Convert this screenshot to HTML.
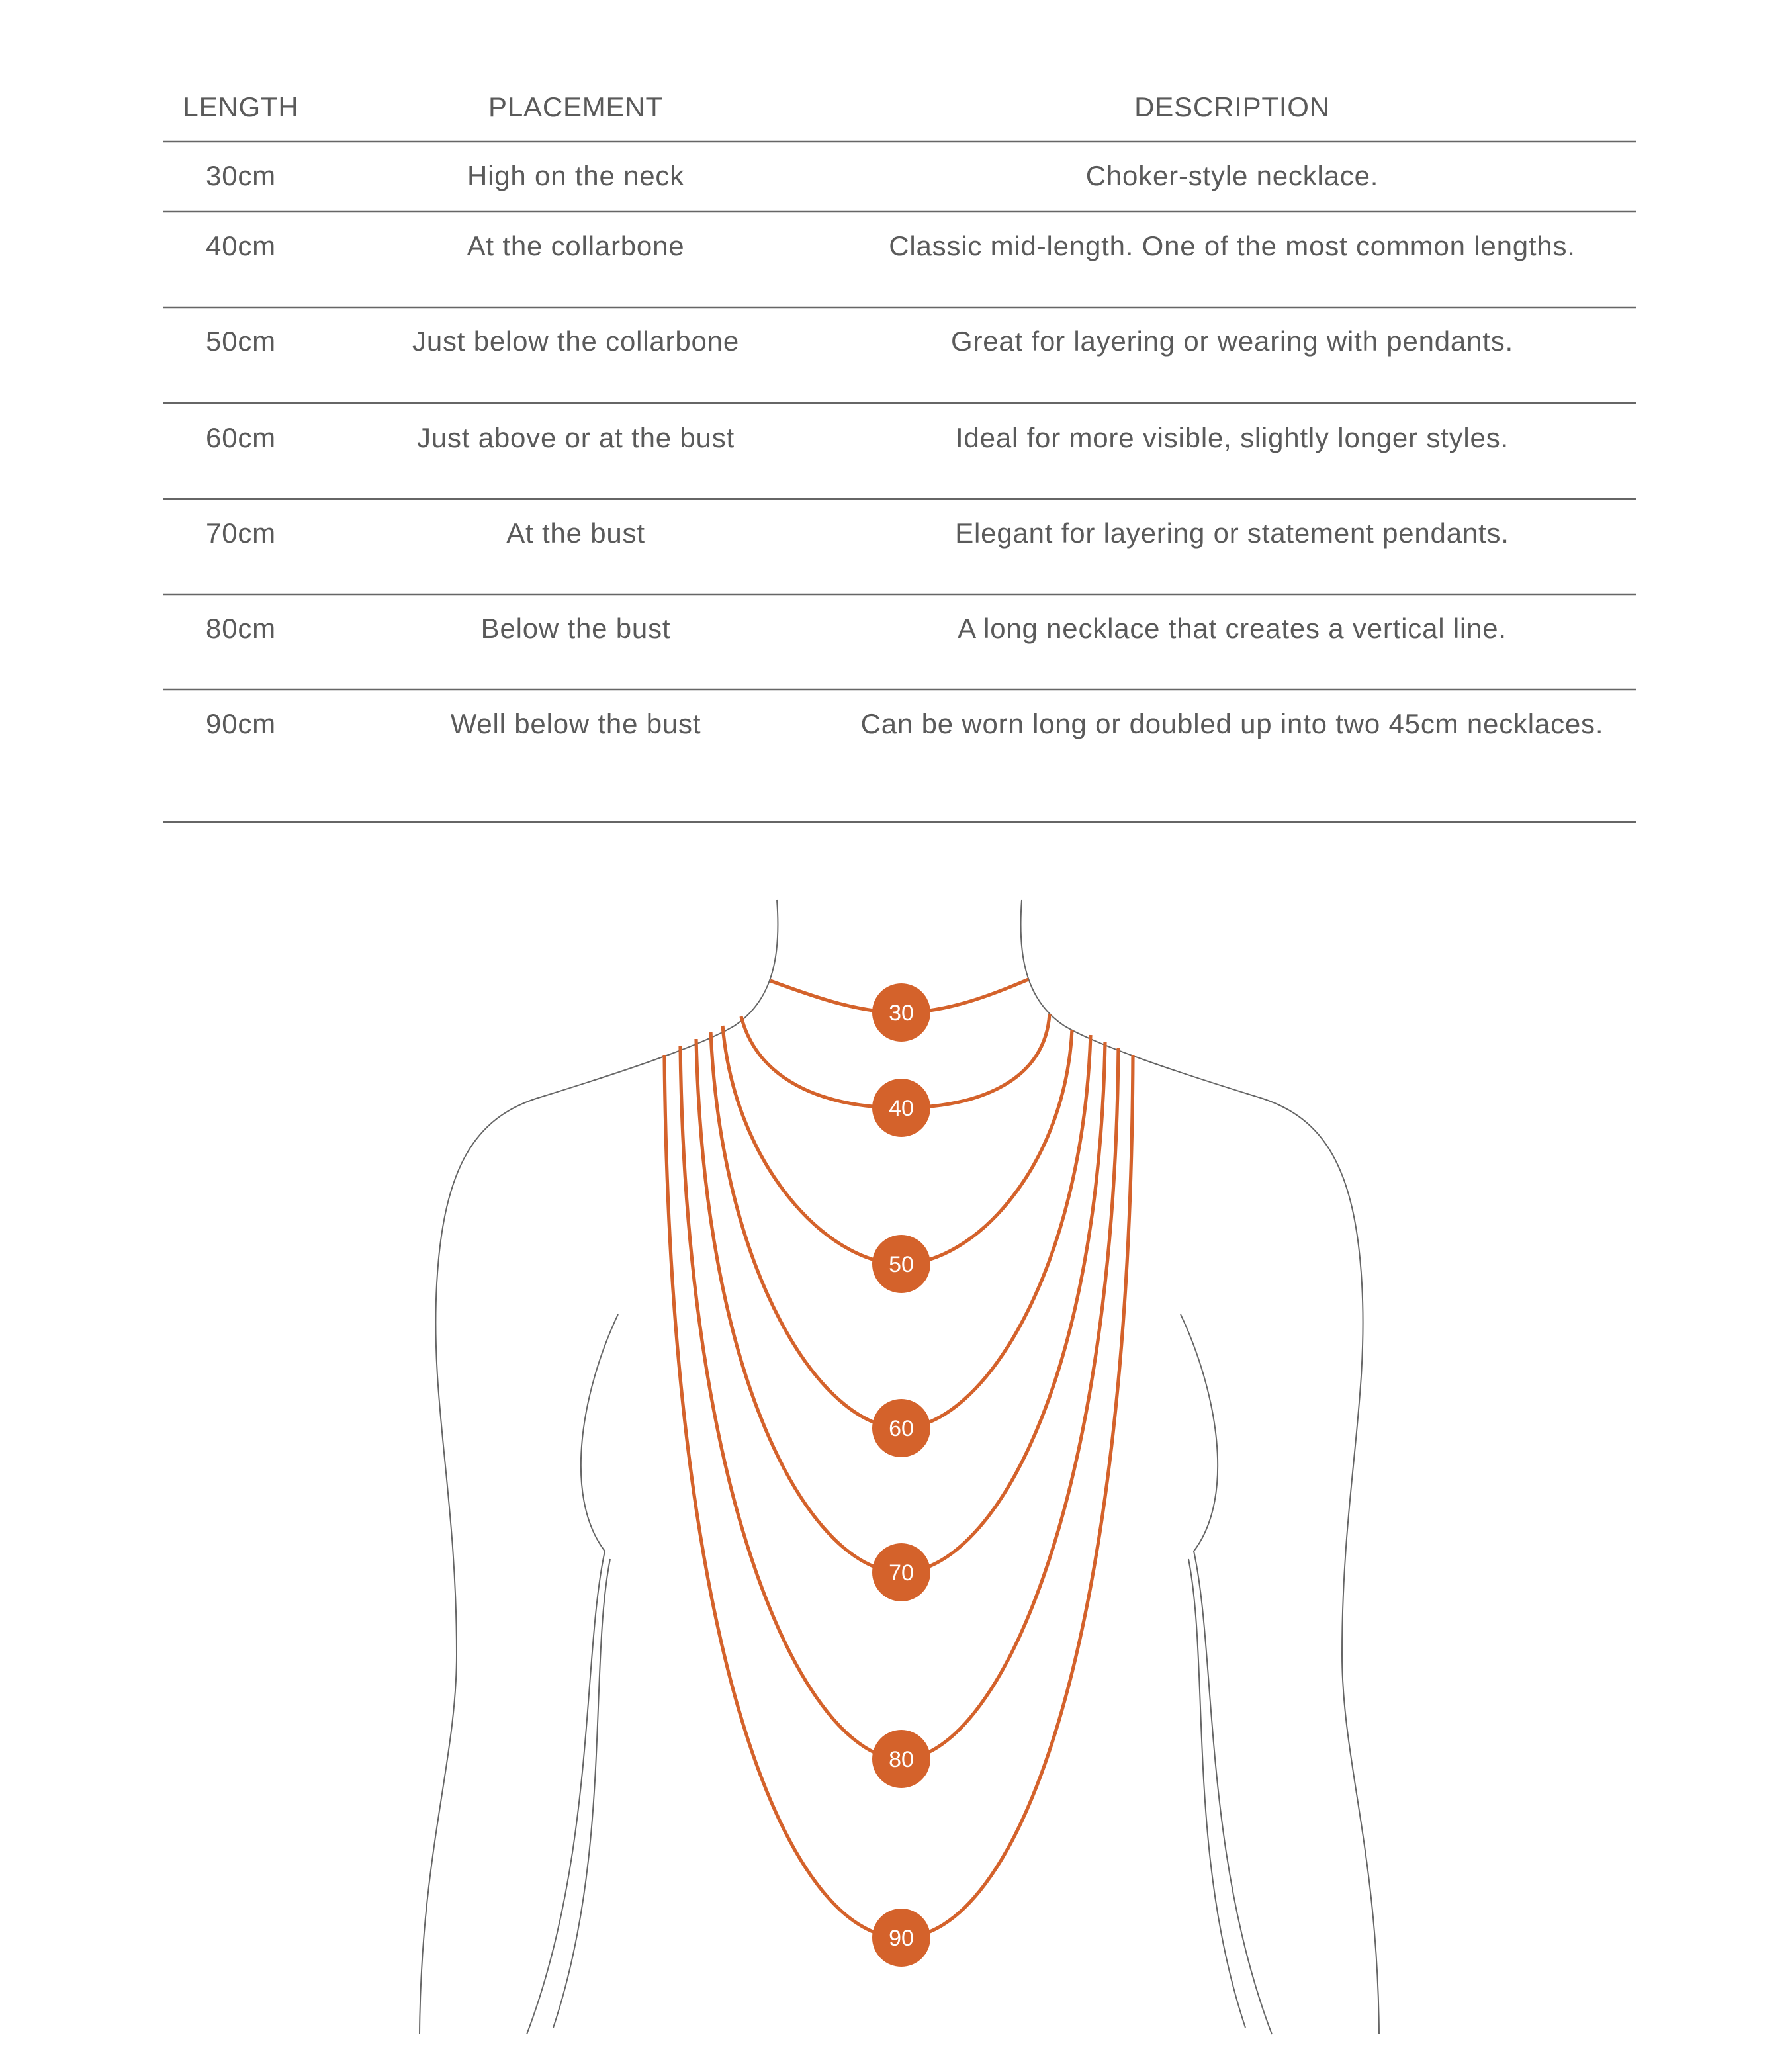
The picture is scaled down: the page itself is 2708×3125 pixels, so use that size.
<!DOCTYPE html>
<html><head><meta charset="utf-8"><style>
html,body{margin:0;padding:0;background:#fff;}
svg{display:block;}
</style></head><body>
<svg width="2708" height="3125" viewBox="0 0 1354 1562.5" xmlns="http://www.w3.org/2000/svg">
<g font-family="Liberation Sans, sans-serif" font-size="21" fill="#5a5a5a" text-anchor="middle" letter-spacing="0.4">
<text x="182" y="88">LENGTH</text><text x="435" y="88">PLACEMENT</text><text x="931" y="88">DESCRIPTION</text>
<text x="182" y="140">30cm</text><text x="435" y="140">High on the neck</text><text x="931" y="140">Choker-style necklace.</text>
<text x="182" y="193">40cm</text><text x="435" y="193">At the collarbone</text><text x="931" y="193">Classic mid-length. One of the most common lengths.</text>
<text x="182" y="265">50cm</text><text x="435" y="265">Just below the collarbone</text><text x="931" y="265">Great for layering or wearing with pendants.</text>
<text x="182" y="338">60cm</text><text x="435" y="338">Just above or at the bust</text><text x="931" y="338">Ideal for more visible, slightly longer styles.</text>
<text x="182" y="410">70cm</text><text x="435" y="410">At the bust</text><text x="931" y="410">Elegant for layering or statement pendants.</text>
<text x="182" y="482">80cm</text><text x="435" y="482">Below the bust</text><text x="931" y="482">A long necklace that creates a vertical line.</text>
<text x="182" y="554">90cm</text><text x="435" y="554">Well below the bust</text><text x="931" y="554">Can be worn long or doubled up into two 45cm necklaces.</text>
</g>
<g stroke="#666" stroke-width="1.3">
<line x1="123" y1="107" x2="1236" y2="107"/><line x1="123" y1="160" x2="1236" y2="160"/>
<line x1="123" y1="232.5" x2="1236" y2="232.5"/><line x1="123" y1="304.5" x2="1236" y2="304.5"/>
<line x1="123" y1="377" x2="1236" y2="377"/><line x1="123" y1="449" x2="1236" y2="449"/>
<line x1="123" y1="521" x2="1236" y2="521"/><line x1="123" y1="621" x2="1236" y2="621"/>
</g>
<g fill="none" stroke="#666" stroke-width="1">
<path d="M587 680 C590 720 585 755 555 775 C530 790 470 810 405 830 C360 845 335 880 330 970 C325 1060 345 1130 345 1250 C345 1330 318 1400 317 1537"/>
<path d="M772 680 C769 720 774 755 804 775 C829 790 889 810 954 830 C999 845 1024 880 1029 970 C1034 1060 1014 1130 1014 1250 C1014 1330 1041 1400 1042 1537"/>
<path d="M467 993 C440 1050 425 1130 457 1172 C440 1250 450 1400 398 1537"/>
<path d="M461 1178 C445 1260 462 1400 418 1532"/>
<path d="M892 993 C919 1050 934 1130 902 1172 C919 1250 909 1400 961 1537"/>
<path d="M898 1178 C914 1260 897 1400 941 1532"/>
</g>
<g fill="none" stroke="#d4622b" stroke-width="2.6">
<path d="M582 741 C620 755 650 765 681 765 C712 765 742 755 777 740"/>
<path d="M560 768 C572 815 620 837 681 837 C742 837 790 815 793 766"/>
<path d="M546 775 C555 880 625 955 681 955 C737 955 805 880 810 778"/>
<path d="M537 780 C545 960 620 1079 681 1079 C742 1079 818 960 824 782"/>
<path d="M526 785 C532 1050 615 1188 681 1188 C747 1188 830 1050 835 787"/>
<path d="M514 790 C518 1140 610 1329 681 1329 C752 1329 842 1140 845 792"/>
<path d="M502 797 C506 1250 595 1464 681 1464 C767 1464 854 1250 856 797"/>
</g>
<g fill="#d4622b">
<circle cx="681" cy="765" r="22"/><circle cx="681" cy="837" r="22"/><circle cx="681" cy="955" r="22"/>
<circle cx="681" cy="1079" r="22"/><circle cx="681" cy="1188" r="22"/><circle cx="681" cy="1329" r="22"/><circle cx="681" cy="1464" r="22"/>
</g>
<g font-family="Liberation Sans, sans-serif" font-size="17" fill="#fff" text-anchor="middle">
<text x="681" y="771">30</text><text x="681" y="843">40</text><text x="681" y="961">50</text>
<text x="681" y="1085">60</text><text x="681" y="1194">70</text><text x="681" y="1335">80</text><text x="681" y="1470">90</text>
</g>
</svg>
</body></html>
